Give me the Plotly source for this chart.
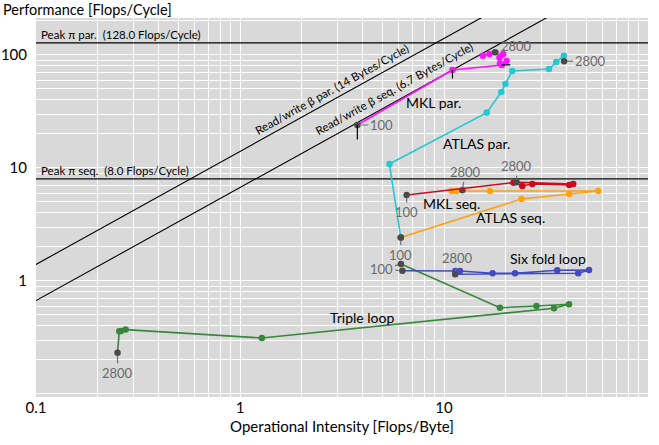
import plotly.graph_objects as go
import numpy as np

# ---------------- data ----------------
pi_par = 128.0
pi_seq = 8.0
beta_par = 14.0
beta_seq = 6.7

mkl_par_x = [3.76, 11.0, 19.2, 20.3, 18.8, 18.7, 19.5, 16.7, 15.5, 17.8]
mkl_par_y = [24.0, 73.6, 81.6, 88.6, 84.1, 94.6, 102.0, 102.0, 98.6, 105.6]

atlas_par_x = [6.14, 5.40, 16.2, 19.1, 20.0, 21.6, 32.7, 35.5, 38.7, 38.8]
atlas_par_y = [2.42, 10.85, 30.9, 47.1, 55.4, 72.1, 75.2, 86.7, 98.6, 88.1]

mkl_seq_x = [6.56, 21.9, 24.2, 27.1, 41.1, 43.0, 22.7]
mkl_seq_y = [5.77, 7.41, 6.93, 7.22, 7.07, 7.22, 7.47]

atlas_seq_x = [6.14, 24.0, 41.1, 57.0, 16.8, 10.9, 11.5, 12.3]
atlas_seq_y = [2.42, 5.32, 5.89, 6.26, 6.26, 6.26, 6.26, 6.35]

six_x = [6.25, 11.35, 11.97, 17.3, 22.3, 35.9, 51.4, 45.5, 11.35]
six_y = [1.23, 1.226, 1.226, 1.17, 1.17, 1.244, 1.25, 1.17, 1.146]

triple_x = [6.15, 18.8, 28.4, 41.0, 34.6, 1.28, 0.275, 0.261, 0.256, 0.251]
triple_y = [1.41, 0.58, 0.60, 0.622, 0.574, 0.313, 0.371, 0.361, 0.359, 0.232]

x_ticks = [0.1, 1, 10, 100]
y_ticks = [1, 10, 100]

FONT = "Lato, 'Open Sans', sans-serif"
DARK = "#4a4a4a"
GREY_TXT = "#6a6a6a"

fig = go.Figure()

# roofline diagonals and peaks
xx = np.array([0.1, 100.0])
for b in (beta_par, beta_seq):
    fig.add_trace(go.Scatter(x=xx, y=b * xx, mode="lines",
                             line=dict(color="black", width=1.1),
                             hoverinfo="skip", showlegend=False))
for p in (pi_par, pi_seq):
    fig.add_trace(go.Scatter(x=[0.1, 100], y=[p, p], mode="lines",
                             line=dict(color="black", width=1.1),
                             hoverinfo="skip", showlegend=False))

def series(x, y, color):
    n = len(x)
    cols = [color] * n
    cols[0] = DARK
    cols[-1] = DARK
    fig.add_trace(go.Scatter(x=x, y=y, mode="lines+markers",
                             line=dict(color=color, width=1.6),
                             marker=dict(color=cols, size=6.5),
                             showlegend=False))

series(triple_x, triple_y, "#37883a")
series(six_x, six_y, "#4149c4")
series(atlas_seq_x, atlas_seq_y, "#ffa010")
series(mkl_seq_x, mkl_seq_y, "#cc0a1e")
series(atlas_par_x, atlas_par_y, "#22c8d2")
series(mkl_par_x, mkl_par_y, "#ff10ff")

ann = []

def lab(x, y, text, ax, ay, color=GREY_TXT, size=13):
    ann.append(dict(x=np.log10(x), y=np.log10(y), xref="x", yref="y", text=text,
                    showarrow=True, arrowhead=0, arrowwidth=1.2, arrowcolor="#707070",
                    ax=ax, ay=ay, standoff=3,
                    font=dict(family=FONT, size=size, color=color)))

lab(mkl_par_x[0], mkl_par_y[0], "100", 24, 0)
lab(mkl_par_x[-1], mkl_par_y[-1], "2800", 21, -6)
lab(atlas_par_x[-1], atlas_par_y[-1], "2800", 26, 0)
lab(mkl_seq_x[-1], mkl_seq_y[-1], "2800", 0, -16)
lab(atlas_seq_x[-1], atlas_seq_y[-1], "2800", 3, -18)
lab(mkl_seq_x[0], mkl_seq_y[0], "100", 0, 17)
lab(atlas_seq_x[0], atlas_seq_y[0], "100", 0, 17)
lab(triple_x[0], triple_y[0], "100", -19, 5)
lab(six_x[0], six_y[0], "100", -20, -2, color="rgba(0,0,0,0)")
lab(six_x[-1], six_y[-1], "2800", 2, -16)
lab(triple_x[-1], triple_y[-1], "2800", 0, 20)

def tick(x, y, ax, ay):
    ann.append(dict(x=np.log10(x), y=np.log10(y), xref="x", yref="y", text="",
                    showarrow=True, arrowhead=0, arrowwidth=1.2, arrowcolor="black",
                    ax=ax, ay=ay, standoff=0))

tick(mkl_par_x[0], mkl_par_y[0], 0, 16)
tick(mkl_par_x[1], mkl_par_y[1], 0, 10)
tick(mkl_par_x[2], mkl_par_y[2], 10, 0)

def txt(x, y, text, size=14, angle=0, xshift=0, yshift=0, xanchor="center"):
    ann.append(dict(x=np.log10(x), y=np.log10(y), xref="x", yref="y", text=text,
                    showarrow=False, textangle=angle, xshift=xshift, yshift=yshift,
                    xanchor=xanchor,
                    font=dict(family=FONT, size=size, color="black")))

txt(0.104, pi_par, "Peak \u03c0 par.  (128.0 Flops/Cycle)", size=11.5, xanchor="left", yshift=8)
txt(0.104, pi_seq, "Peak \u03c0 seq.  (8.0 Flops/Cycle)", size=11.5, xanchor="left", yshift=8)
txt(2.96, beta_par * 2.96, "Read/write \u03b2 par. (14 Bytes/Cycle)", size=11.5, angle=-29, xshift=-5, yshift=9)
txt(6.08, beta_seq * 6.08, "Read/write \u03b2 seq. (6.7 Bytes/Cycle)", size=11.5, angle=-29, xshift=-6, yshift=11)

# series names
txt(8.84, 37.6, "MKL par.")
txt(14.4, 16.6, "ATLAS par.")
txt(10.9, 4.80, "MKL seq.")
txt(21.3, 3.61, "ATLAS seq.")
txt(32.4, 1.57, "Six fold loop")
txt(3.96, 0.471, "Triple loop")

ann.append(dict(xref="paper", yref="paper", x=-0.056, y=1.0237,
                xanchor="left", yanchor="middle", borderpad=0,
                text="Performance [Flops/Cycle]", showarrow=False,
                font=dict(family=FONT, size=14.5, color="black")))

fig.update_layout(
    width=659, height=445,
    margin=dict(l=36, r=11, t=18, b=48),
    paper_bgcolor="white", plot_bgcolor="#d9d9d9",
    font=dict(family=FONT, size=15, color="black"),
    annotations=ann,
    showlegend=False,
)
fig.update_xaxes(type="log", range=[-1, 2], tickvals=x_ticks, ticktext=["0.1", "1", "10", "100"],
                 showgrid=True, gridcolor="white", gridwidth=1.4,
                 minor=dict(showgrid=True, gridcolor="white", gridwidth=1.2, dtick="D1"),
                 zeroline=False, showline=False, ticks="", automargin=False,
                 title=dict(text="Operational Intensity [Flops/Byte]", font=dict(size=15), standoff=6))
fig.update_yaxes(type="log", range=[-1.027, 2.327], tickvals=y_ticks, ticktext=["1", "10", "100"],
                 showgrid=True, gridcolor="white", gridwidth=1.4,
                 minor=dict(showgrid=True, gridcolor="white", gridwidth=1.2, dtick="D1"),
                 zeroline=False, showline=False, ticks="", ticklabelstandoff=8, automargin=False)

fig.write_html("out.html")
